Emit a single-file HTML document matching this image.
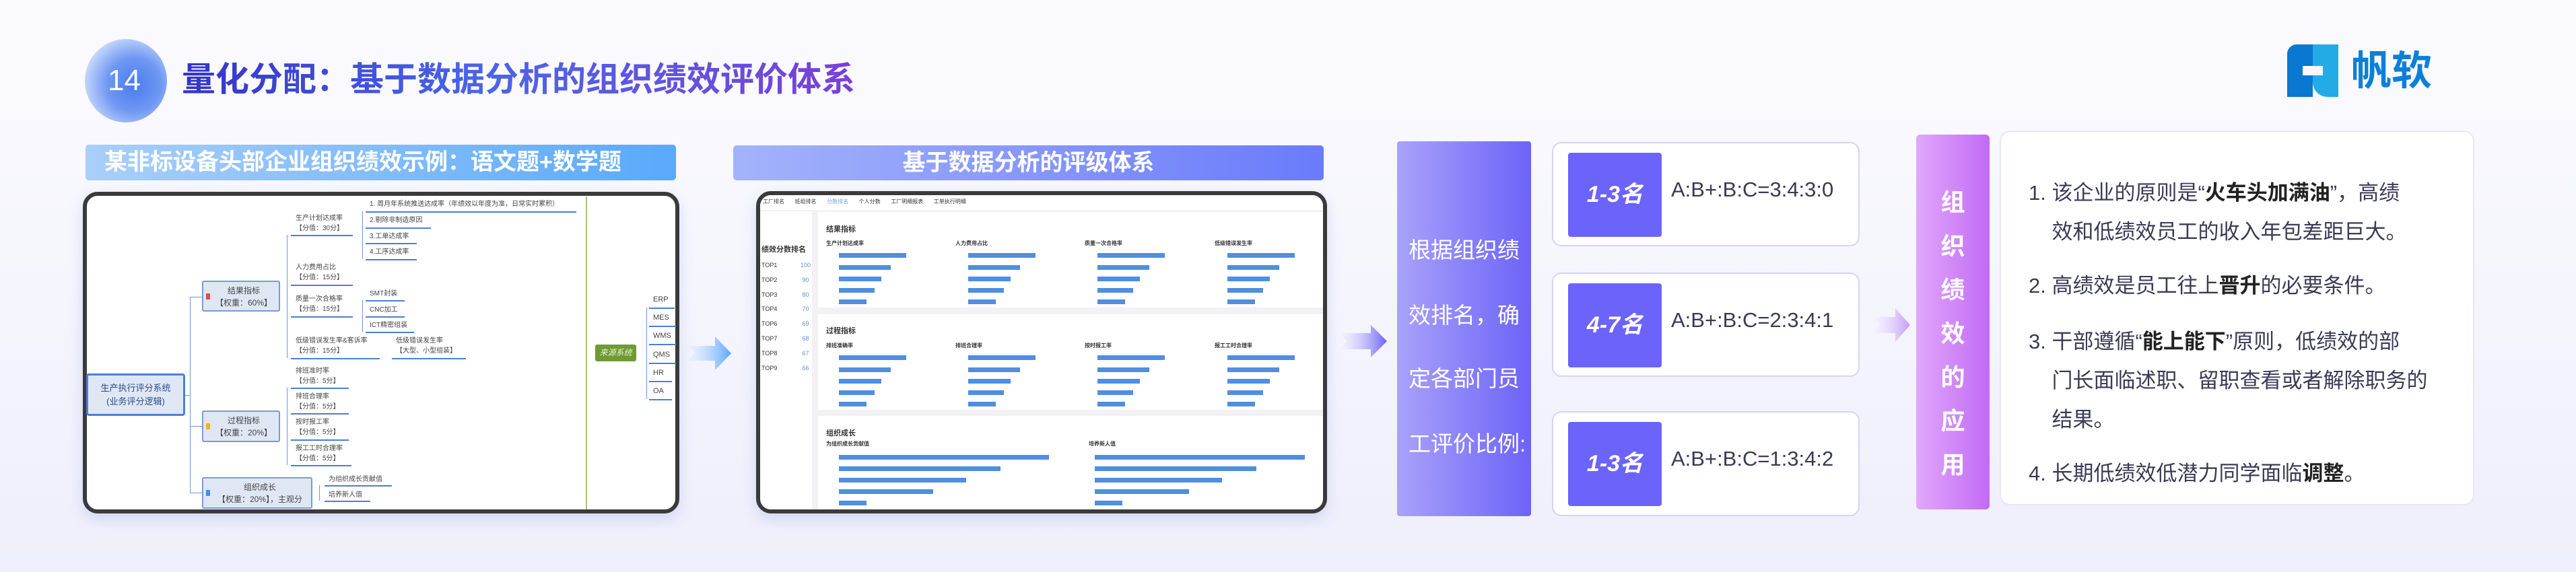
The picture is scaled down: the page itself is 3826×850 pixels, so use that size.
<!DOCTYPE html>
<html><head><meta charset="utf-8">
<style>
*{margin:0;padding:0;box-sizing:border-box}
body{width:3826px;height:850px;overflow:hidden;position:relative;font-family:"Liberation Sans","Noto Sans CJK SC",sans-serif;background:linear-gradient(180deg,#fbfbfe 0%,#f5f5fd 50%,#eeeffc 100%)}
.a{position:absolute;white-space:nowrap}
.t{font-size:10px;color:#444;line-height:15px}
.u{position:absolute;height:2px;background:#4a7fd6}
.vl{position:absolute;width:1px;background:#6d95dc}
.bar{position:absolute;height:7px;background:#4f8ee0}
.st{font-size:11px;color:#333;font-weight:bold}
.sub{font-size:8px;color:#333;font-weight:bold}
</style></head><body>

<!-- title -->
<div class="a" style="left:126px;top:58px;width:122px;height:124px;border-radius:50%;background:radial-gradient(circle at 60% 55%,#4a7cf0 0%,#6f98f3 40%,#c8d8fb 75%,rgba(230,236,253,0.3) 100%)"></div>
<div class="a" style="left:160px;top:92px;font-size:44px;color:#fff;line-height:56px">14</div>
<div class="a" style="left:270px;top:88px;font-size:50px;font-weight:bold;line-height:60px;background:linear-gradient(90deg,#3434c8,#4a66e6 45%,#7a3fd8);-webkit-background-clip:text;color:transparent">量化分配：基于数据分析的组织绩效评价体系</div>

<!-- logo -->
<div class="a" style="left:3397px;top:66px;width:38px;height:78px;background:#0a78d0;border-radius:14px 0 0 0"></div>
<div class="a" style="left:3435px;top:66px;width:38px;height:78px;background:#23abe6;border-radius:0 0 0 22px"></div>
<div class="a" style="left:3420px;top:98px;width:30px;height:14px;background:#f8f7fd"></div>
<div class="a" style="left:3492px;top:70px;font-size:60px;font-weight:bold;color:#0a80d8;line-height:72px">帆软</div>

<!-- banners -->
<div class="a" style="left:127px;top:215px;width:877px;height:53px;border-radius:5px;background:linear-gradient(90deg,#a9cff9,#5aa9fb);color:#fff;font-size:34px;font-weight:bold;line-height:53px;padding-left:28px">某非标设备头部企业组织绩效示例：语文题+数学题</div>
<div class="a" style="left:1089px;top:216px;width:877px;height:52px;border-radius:5px;background:linear-gradient(90deg,#a3b3fb,#6a7bfb);color:#fff;font-size:34px;font-weight:bold;line-height:52px;text-align:center">基于数据分析的评级体系</div>

<!-- mindmap frame -->
<div class="a" style="left:123px;top:285px;width:886px;height:478px;border:6px solid #3a3a3a;border-radius:22px;background:#fff;box-shadow:0 8px 20px rgba(120,140,220,0.25)"></div>
<div class="a" style="left:128px;top:555px;width:147px;height:63px;border:3px solid #4a7fd6;border-radius:4px;background:#dfe7f4;text-align:center;font-size:13px;line-height:20px;color:#2e4a8a;padding-top:9px">生产执行评分系统<br>(业务评分逻辑)</div>
<div class="vl" style="left:282px;top:441px;height:291px"></div>
<div class="a" style="left:275px;top:587px;width:8px;height:1px;background:#6d95dc"></div>
<div class="a" style="left:282px;top:441px;width:18px;height:1px;background:#6d95dc"></div>
<div class="a" style="left:282px;top:633px;width:18px;height:1px;background:#6d95dc"></div>
<div class="a" style="left:282px;top:732px;width:18px;height:1px;background:#6d95dc"></div>

<div class="a" style="left:300px;top:417px;width:116px;height:46px;border:2px solid #7a9ad6;border-radius:3px;background:#dfe7f4;text-align:center;font-size:12px;line-height:18px;color:#444;padding-top:4px;padding-left:8px">结果指标<br>【权重：60%】</div>
<div class="a" style="left:306px;top:436px;width:6px;height:9px;background:#e74a4a"></div>
<div class="a" style="left:300px;top:610px;width:116px;height:47px;border:2px solid #7a9ad6;border-radius:3px;background:#dfe7f4;text-align:center;font-size:12px;line-height:18px;color:#444;padding-top:4px;padding-left:8px">过程指标<br>【权重：20%】</div>
<div class="a" style="left:306px;top:629px;width:6px;height:9px;background:#f5b400"></div>
<div class="a" style="left:300px;top:709px;width:164px;height:47px;border:2px solid #7a9ad6;border-radius:3px;background:#dfe7f4;text-align:center;font-size:12px;line-height:18px;color:#444;padding-top:4px;padding-left:8px">组织成长<br>【权重：20%】，主观分</div>
<div class="a" style="left:306px;top:728px;width:6px;height:9px;background:#4a8af0"></div>

<div class="vl" style="left:426px;top:349px;height:183px"></div>
<div class="vl" style="left:426px;top:576px;height:115px"></div>
<div class="vl" style="left:474px;top:721px;height:23px"></div>

<div class="a t" style="left:439px;top:317px">生产计划达成率<br>【分值：30分】</div><div class="u" style="left:432px;top:349px;width:92px"></div>
<div class="a t" style="left:439px;top:390px">人力费用占比<br>【分值：15分】</div><div class="u" style="left:432px;top:423px;width:92px"></div>
<div class="a t" style="left:439px;top:437px">质量一次合格率<br>【分值：15分】</div><div class="u" style="left:432px;top:470px;width:92px"></div>
<div class="a t" style="left:439px;top:499px">低级错误发生率&amp;客诉率<br>【分值：15分】</div><div class="u" style="left:432px;top:532px;width:132px"></div>
<div class="a t" style="left:588px;top:499px">低级错误发生率<br>【大型、小型组装】</div><div class="u" style="left:582px;top:532px;width:110px"></div>
<div class="a t" style="left:439px;top:544px">排班准时率<br>【分值：5分】</div><div class="u" style="left:432px;top:576px;width:86px"></div>
<div class="a t" style="left:439px;top:582px">排班合理率<br>【分值：5分】</div><div class="u" style="left:432px;top:614px;width:86px"></div>
<div class="a t" style="left:439px;top:620px">按时报工率<br>【分值：5分】</div><div class="u" style="left:432px;top:653px;width:86px"></div>
<div class="a t" style="left:439px;top:659px">报工工时合理率<br>【分值：5分】</div><div class="u" style="left:432px;top:691px;width:90px"></div>
<div class="a t" style="left:488px;top:705px">为组织成长贡献值</div><div class="u" style="left:482px;top:721px;width:100px"></div>
<div class="a t" style="left:488px;top:728px">培养新人值</div><div class="u" style="left:482px;top:744px;width:68px"></div>

<div class="vl" style="left:538px;top:314px;height:71px"></div>
<div class="vl" style="left:538px;top:446px;height:47px"></div>
<div class="a t" style="left:549px;top:296px">1. 周月年系统推送达成率（年绩效以年度为准，日常实时累积）</div><div class="u" style="left:543px;top:314px;width:313px"></div>
<div class="a t" style="left:549px;top:320px">2.剔除非制造原因</div><div class="u" style="left:543px;top:338px;width:97px"></div>
<div class="a t" style="left:549px;top:344px">3.工单达成率</div><div class="u" style="left:543px;top:361px;width:76px"></div>
<div class="a t" style="left:549px;top:367px">4.工序达成率</div><div class="u" style="left:543px;top:385px;width:76px"></div>
<div class="a t" style="left:549px;top:429px">SMT封装</div><div class="u" style="left:543px;top:446px;width:58px"></div>
<div class="a t" style="left:549px;top:453px">CNC加工</div><div class="u" style="left:543px;top:470px;width:58px"></div>
<div class="a t" style="left:549px;top:476px">ICT精密组装</div><div class="u" style="left:543px;top:493px;width:72px"></div>

<div class="a" style="left:870px;top:292px;width:2px;height:465px;background:#a6c47a"></div>
<div class="a" style="left:884px;top:512px;width:61px;height:25px;background:#6f9a34;border-radius:3px;color:#e8f0d8;font-size:12px;font-style:italic;line-height:25px;text-align:center">来源系统</div>
<div class="vl" style="left:960px;top:457px;height:136px"></div>
<div class="a t" style="left:970px;top:438px;font-size:11px">ERP</div><div class="u" style="left:964px;top:457px;width:38px"></div>
<div class="a t" style="left:970px;top:465px;font-size:11px">MES</div><div class="u" style="left:964px;top:484px;width:40px"></div>
<div class="a t" style="left:970px;top:492px;font-size:11px">WMS</div><div class="u" style="left:964px;top:511px;width:40px"></div>
<div class="a t" style="left:970px;top:520px;font-size:11px">QMS</div><div class="u" style="left:964px;top:539px;width:40px"></div>
<div class="a t" style="left:970px;top:547px;font-size:11px">HR</div><div class="u" style="left:964px;top:566px;width:34px"></div>
<div class="a t" style="left:970px;top:574px;font-size:11px">OA</div><div class="u" style="left:964px;top:593px;width:34px"></div>

<!-- arrow 1 -->
<svg class="a" style="left:1022px;top:500px" width="66" height="50"><defs><linearGradient id="g1"><stop offset="0" stop-color="#dbeafd" stop-opacity="0.3"/><stop offset="1" stop-color="#5aa6fb"/></linearGradient></defs><polygon points="0,14 40,14 40,0 64,25 40,50 40,36 0,36 10,25" fill="url(#g1)"/></svg>

<!-- screenshot frame -->
<div class="a" style="left:1123px;top:284px;width:848px;height:479px;border:6px solid #3a3a3a;border-radius:22px;background:#f2f2f4;overflow:hidden;box-shadow:0 8px 20px rgba(120,140,220,0.25)">
 <div class="a" style="left:0;top:0;width:840px;height:22px;background:#fff;font-size:8px;color:#333;line-height:20px;padding-left:4px">工厂排名&nbsp;&nbsp;&nbsp;&nbsp;&nbsp;&nbsp;&nbsp;班组排名&nbsp;&nbsp;&nbsp;&nbsp;&nbsp;&nbsp;&nbsp;<span style="color:#6fa0f0">分数排名</span>&nbsp;&nbsp;&nbsp;&nbsp;&nbsp;&nbsp;&nbsp;个人分数&nbsp;&nbsp;&nbsp;&nbsp;&nbsp;&nbsp;&nbsp;工厂明细报表&nbsp;&nbsp;&nbsp;&nbsp;&nbsp;&nbsp;&nbsp;工单执行明细</div>
 <div class="a" style="left:0;top:24px;width:77px;height:460px;background:#fff"></div>
 <div class="a" style="left:2px;top:72px;font-size:11px;font-weight:bold;color:#333">绩效分数排名</div>
 <div class="a" style="left:2px;top:94px;font-size:9px;line-height:21.8px;color:#333">TOP1<br>TOP2<br>TOP3<br>TOP4<br>TOP6<br>TOP7<br>TOP8<br>TOP9</div>
 <div class="a" style="left:60px;top:94px;font-size:9px;line-height:21.8px;color:#5a8fe8">100<br>&nbsp;90<br>&nbsp;80<br>&nbsp;70<br>&nbsp;69<br>&nbsp;68<br>&nbsp;67<br>&nbsp;66</div>
 <div class="a" style="left:86px;top:25px;width:760px;height:142px;background:#fff"></div>
 <div class="a" style="left:86px;top:177px;width:760px;height:142px;background:#fff"></div>
 <div class="a" style="left:86px;top:328px;width:760px;height:145px;background:#fff"></div>
 <div class="a st" style="left:98px;top:42px">结果指标</div>
 <div class="a st" style="left:98px;top:193px">过程指标</div>
 <div class="a st" style="left:98px;top:345px">组织成长</div>
 <div class="a sub" style="left:98px;top:66px">生产计划达成率</div><div class="a sub" style="left:290px;top:66px">人力费用占比</div><div class="a sub" style="left:482px;top:66px">质量一次合格率</div><div class="a sub" style="left:675px;top:66px">低级错误发生率</div>
 <div class="a sub" style="left:98px;top:218px">排班准确率</div><div class="a sub" style="left:290px;top:218px">排班合理率</div><div class="a sub" style="left:482px;top:218px">按时报工率</div><div class="a sub" style="left:675px;top:218px">报工工时合理率</div>
 <div class="a sub" style="left:98px;top:364px">为组织成长贡献值</div><div class="a sub" style="left:488px;top:364px">培养新人值</div>
</div>
<svg class="a" style="left:1129px;top:290px" width="836" height="467">
<g fill="#4f8ee0">
<!-- section1 & 2 -->
<g id="grp">
<rect x="117" y="86" width="100" height="7"/><rect x="117" y="104" width="77" height="7"/><rect x="117" y="121" width="63" height="7"/><rect x="117" y="138" width="53" height="7"/><rect x="117" y="155" width="41" height="7"/>
</g>
<use href="#grp" x="192"/><use href="#grp" x="384"/><use href="#grp" x="577"/>
<use href="#grp" y="152"/><use href="#grp" x="192" y="152"/><use href="#grp" x="384" y="152"/><use href="#grp" x="577" y="152"/>
<g id="g3"><rect x="117" y="386" width="312" height="7"/><rect x="117" y="403" width="240" height="7"/><rect x="117" y="420" width="189" height="7"/><rect x="117" y="437" width="140" height="7"/><rect x="117" y="454" width="41" height="7"/></g>
<use href="#g3" x="380"/>
</g>
</svg>

<!-- arrow 2 -->
<svg class="a" style="left:1990px;top:483px" width="72" height="48"><defs><linearGradient id="g2"><stop offset="0" stop-color="#eeeefe" stop-opacity="0.3"/><stop offset="1" stop-color="#6b62f5"/></linearGradient></defs><polygon points="0,12 46,12 46,0 70,24 46,48 46,36 0,36 10,24" fill="url(#g2)"/></svg>

<!-- left purple panel -->
<div class="a" style="left:2075px;top:210px;width:199px;height:557px;border-radius:4px;background:linear-gradient(90deg,#a9a2fb,#6c63f8);color:#fff;font-size:33px;line-height:97px;padding-top:318px;padding-left:17px;white-space:normal"></div>
<div class="a" style="left:2092px;top:345px;font-size:33px;color:#fff">根据组织绩</div>
<div class="a" style="left:2092px;top:442px;font-size:33px;color:#fff">效排名，确</div>
<div class="a" style="left:2092px;top:536px;font-size:33px;color:#fff">定各部门员</div>
<div class="a" style="left:2092px;top:633px;font-size:33px;color:#fff">工评价比例:</div>

<!-- ratio boxes -->
<div class="a" style="left:2305px;top:211px;width:457px;height:155px;border:2px solid #d6d2fb;border-radius:14px;background:#fff"></div>
<div class="a" style="left:2305px;top:405px;width:457px;height:155px;border:2px solid #d6d2fb;border-radius:14px;background:#fff"></div>
<div class="a" style="left:2305px;top:611px;width:457px;height:156px;border:2px solid #d6d2fb;border-radius:14px;background:#fff"></div>
<div class="a" style="left:2329px;top:227px;width:139px;height:125px;background:#6c63fa;border-radius:4px;color:#fff;font-size:34px;font-weight:bold;font-style:italic;line-height:125px;text-align:center">1-3名</div>
<div class="a" style="left:2329px;top:421px;width:139px;height:125px;background:#6c63fa;border-radius:4px;color:#fff;font-size:34px;font-weight:bold;font-style:italic;line-height:125px;text-align:center">4-7名</div>
<div class="a" style="left:2329px;top:627px;width:139px;height:125px;background:#6c63fa;border-radius:4px;color:#fff;font-size:34px;font-weight:bold;font-style:italic;line-height:125px;text-align:center">1-3名</div>
<div class="a" style="left:2482px;top:264px;font-size:31px;color:#3a3a55">A:B+:B:C=3:4:3:0</div>
<div class="a" style="left:2482px;top:458px;font-size:31px;color:#3a3a55">A:B+:B:C=2:3:4:1</div>
<div class="a" style="left:2482px;top:664px;font-size:31px;color:#3a3a55">A:B+:B:C=1:3:4:2</div>

<!-- arrow 3 -->
<svg class="a" style="left:2783px;top:458px" width="56" height="50"><defs><linearGradient id="g3g"><stop offset="0" stop-color="#f2eafe" stop-opacity="0.3"/><stop offset="1" stop-color="#c39af8"/></linearGradient></defs><polygon points="0,13 32,13 32,0 54,25 32,50 32,37 0,37 8,25" fill="url(#g3g)"/></svg>

<!-- vertical bar -->
<div class="a" style="left:2846px;top:200px;width:109px;height:557px;border-radius:6px;background:linear-gradient(90deg,#e0a8fb,#c26af5);"></div>
<div class="a" style="left:2846px;top:268px;width:109px;text-align:center;font-size:36px;font-weight:bold;color:#fff;line-height:65px;white-space:normal">组<br>织<br>绩<br>效<br>的<br>应<br>用</div>

<!-- right text panel -->
<div class="a" style="left:2970px;top:194px;width:705px;height:557px;border:2px solid #ece4fb;border-radius:16px;background:#fff"></div>
<div class="a" style="left:3013px;top:258px;font-size:31px;color:#3a3a55;line-height:58px">1. 该企业的原则是“<b style="color:#222">火车头加满油</b>”，高绩<br>&nbsp;&nbsp;&nbsp;&nbsp;效和低绩效员工的收入年包差距巨大。</div>
<div class="a" style="left:3013px;top:396px;font-size:31px;color:#3a3a55;line-height:58px">2. 高绩效是员工往上<b style="color:#222">晋升</b>的必要条件。</div>
<div class="a" style="left:3013px;top:479px;font-size:31px;color:#3a3a55;line-height:58px">3. 干部遵循“<b style="color:#222">能上能下</b>”原则，低绩效的部<br>&nbsp;&nbsp;&nbsp;&nbsp;门长面临述职、留职查看或者解除职务的<br>&nbsp;&nbsp;&nbsp;&nbsp;结果。</div>
<div class="a" style="left:3013px;top:675px;font-size:31px;color:#3a3a55;line-height:58px">4. 长期低绩效低潜力同学面临<b style="color:#222">调整</b>。</div>

</body></html>
